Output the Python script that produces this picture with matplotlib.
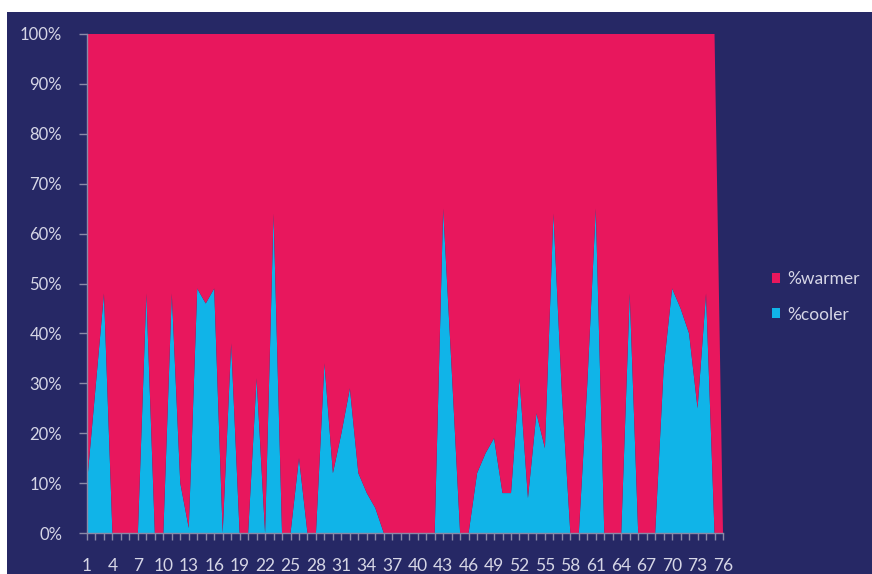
import numpy as np
import matplotlib
matplotlib.use('Agg')
import matplotlib.pyplot as plt
from matplotlib.patches import Rectangle
from matplotlib.ticker import FixedLocator, PercentFormatter

plt.rcParams['font.family'] = ['Lato', 'DejaVu Sans']

# category numbers 1..76
days = list(range(1, 77))

# share of cooler readings (%)
cooler = [10, 29, 48, 0, 0, 0, 0, 48, 0, 0,
          48, 10, 1, 49, 46, 49, 0, 38, 0, 0,
          31, 0, 64, 0, 0, 15, 0, 0, 34, 12,
          20, 29, 12, 8, 5, 0, 0, 0, 0, 0,
          0, 0, 65, 33, 0, 0, 12, 16, 19, 8,
          8, 31, 7, 24, 17, 64, 28, 0, 0, 30,
          65, 0, 0, 0, 48, 0, 0, 0, 33, 49,
          45, 40, 25, 48, 0, 0]

# share of warmer readings (%); last day has no data
warmer = [100 - c for c in cooler[:-1]] + [0]

tick_labels = [str(d) for d in days[::3]]

navy = '#262865'
pink = '#e8175d'
cyan = '#10b4e8'
txt = '#d6d6e6'
axis_col = '#8a8aa8'

fig = plt.figure(figsize=(8.72, 5.74), dpi=100, facecolor='white')
# navy chart area (small white strip on top and left as in the picture)
fig.patches.append(Rectangle((7 / 872, 0), 1 - 7 / 872, 1 - 12 / 574,
                             transform=fig.transFigure, facecolor=navy,
                             edgecolor='none', zorder=-10))

ax = fig.add_axes([87 / 872, 1 - 533 / 574, (723 - 87) / 872, (533 - 34) / 574])
ax.set_facecolor(navy)

ax.stackplot(days, cooler, warmer, colors=[cyan, pink],
             labels=['%cooler', '%warmer'], linewidth=0, antialiased=True)

ax.set_xlim(1, 76)
ax.set_ylim(0, 100)

ax.yaxis.set_major_locator(FixedLocator(np.arange(0, 101, 10)))
ax.yaxis.set_major_formatter(PercentFormatter(decimals=0))
ax.set_xticks(days[::3])
ax.set_xticklabels(tick_labels)
ax.set_xticks(days, minor=True)

ax.tick_params(axis='y', colors=axis_col, labelcolor=txt, labelsize=12,
               length=6, width=1, pad=12)
ax.tick_params(axis='x', which='both', colors=axis_col, labelcolor=txt,
               labelsize=12.5, length=5, width=1, pad=13)

for side in ['top', 'right']:
    ax.spines[side].set_visible(False)
for side in ['left', 'bottom']:
    ax.spines[side].set_color(axis_col)
    ax.spines[side].set_linewidth(1)

# legend: warmer above cooler
handles, labels = ax.get_legend_handles_labels()
leg = fig.legend(handles[::-1], labels[::-1], loc='center left',
                 bbox_to_anchor=(756 / 872, 1 - 297 / 574), frameon=False,
                 fontsize=12.5, labelcolor=txt, handlelength=0.5, handleheight=0.5,
                 handletextpad=0.4, labelspacing=1.1)

fig.savefig('out.png', dpi=100, facecolor=fig.get_facecolor())
